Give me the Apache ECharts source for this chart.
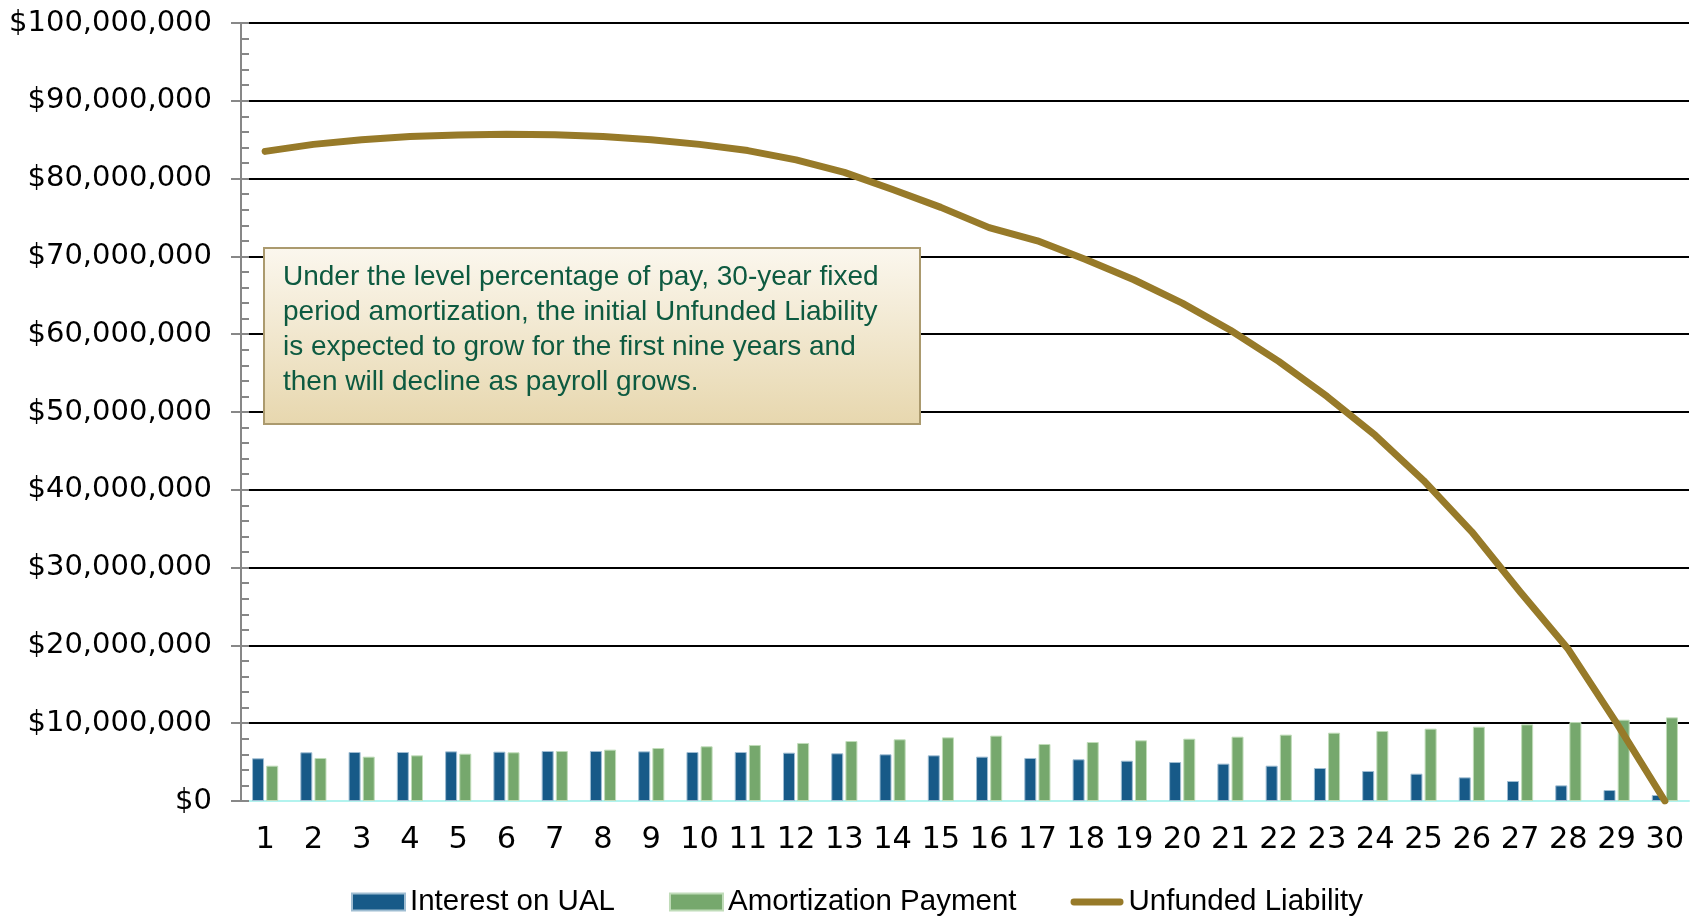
<!DOCTYPE html>
<html>
<head>
<meta charset="utf-8">
<title>Unfunded Liability – 30-Year Fixed Period Amortization</title>
<script src="https://cdn.jsdelivr.net/npm/echarts@6/dist/echarts.min.js"></script>
<style>
  html, body { margin: 0; padding: 0; background: #ffffff; }
  #chart { width: 1690px; height: 916px; }
</style>
</head>
<body>
<div id="chart"></div>
<script>
// Plan years
const years = ['1','2','3','4','5','6','7','8','9','10','11','12','13','14','15',
               '16','17','18','19','20','21','22','23','24','25','26','27','28','29','30'];

// Interest on the unfunded actuarial liability, $ millions
const interestOnUAL = [5.49, 6.26, 6.30, 6.30, 6.38, 6.34, 6.43, 6.43, 6.38, 6.30,
                       6.30, 6.21, 6.13, 6.00, 5.87, 5.70, 5.53, 5.36, 5.18, 5.01,
                       4.80, 4.54, 4.24, 3.86, 3.51, 3.04, 2.57, 2.01, 1.41, 0.77];

// Amortization payment (level percentage of pay), $ millions
const amortizationPayment = [4.54, 5.53, 5.70, 5.87, 6.08, 6.26, 6.43, 6.60, 6.81, 7.03,
                             7.20, 7.46, 7.71, 7.93, 8.18, 8.40, 7.33, 7.58, 7.80, 8.01,
                             8.27, 8.53, 8.78, 9.00, 9.30, 9.55, 9.85, 10.15, 10.45, 10.75];

// Unfunded liability balance, $ millions
const unfundedLiability = [83.5, 84.4, 85.0, 85.4, 85.6, 85.7, 85.65, 85.4, 85.0, 84.4,
                           83.6, 82.4, 80.8, 78.6, 76.3, 73.7, 72.0, 69.6, 67.0, 64.0,
                           60.5, 56.5, 52.0, 47.0, 41.2, 34.6, 26.9, 19.5, 10.0, 0.0];

// Value axis ticks, dollars
const yTicks = { min: 0, max: 100000000, major: 10000000, minor: 2000000 };

const seriesNames = ['Interest on UAL', 'Amortization Payment', 'Unfunded Liability'];

const noteText = [
  'Under the level percentage of pay, 30-year fixed',
  'period amortization, the initial Unfunded Liability',
  'is expected to grow for the first nine years and',
  'then will decline as payroll grows.'
].join('\n');

const M = 1000000;
const toDollars = arr => arr.map(v => Math.round(v * M));

const colors = { interest: '#175a88', amort: '#76a86d', liability: '#977a29' };

// Thick round-capped stroke for the line legend key; the two zero-area
// sub-paths pin the icon box to the full 53x17 legend cell.
const lineKeyIcon = 'path://M0,0 L0.01,0 M0,17 L0.01,17 ' +
  'M3.4,5.1 L49.6,5.1 A3.4,3.4 0 0 1 49.6,11.9 L3.4,11.9 A3.4,3.4 0 0 1 3.4,5.1 Z';

const chart = echarts.init(document.getElementById('chart'), null, { renderer: 'canvas' });

const numFont = 'DejaVu Sans';
const textFont = 'Liberation Sans';

chart.setOption({
  animation: false,
  backgroundColor: '#ffffff',
  grid: { left: 241, right: 1, top: 23, bottom: 115, containLabel: false },
  legend: {
    data: [
      { name: seriesNames[0], icon: 'rect' },
      { name: seriesNames[1], icon: 'rect' },
      { name: seriesNames[2], icon: lineKeyIcon, itemStyle: { color: colors.liability, borderWidth: 0 } }
    ],
    left: 346,
    top: 882,
    itemWidth: 53,
    itemHeight: 17,
    itemGap: 54,
    textStyle: { fontFamily: textFont, fontSize: 29.5, color: '#000000' }
  },
  xAxis: {
    type: 'category',
    data: years,
    boundaryGap: true,
    axisLine: { show: true, lineStyle: { color: '#b2f3ee', width: 2 } },
    axisTick: { show: false },
    axisLabel: { fontFamily: numFont, fontSize: 30.5, color: '#000000', margin: 24, interval: 0 },
    splitLine: { show: false }
  },
  yAxis: [
    {
      type: 'value',
      min: yTicks.min,
      max: yTicks.max,
      interval: yTicks.major,
      axisLine: { show: true, lineStyle: { color: '#878787', width: 2 } },
      axisTick: { show: true, inside: false, length: 10, lineStyle: { color: '#878787', width: 2 } },
      axisLabel: {
        fontFamily: numFont, fontSize: 29, color: '#000000', margin: 29,
        formatter: v => '$' + v.toLocaleString('en-US')
      },
      splitLine: { show: true, lineStyle: { color: '#000000', width: 2 } }
    },
    {
      type: 'value',
      position: 'left',
      min: yTicks.min,
      max: yTicks.max,
      interval: yTicks.minor,
      axisLine: { show: false },
      axisTick: { show: true, inside: true, length: 8, lineStyle: { color: '#878787', width: 2 } },
      axisLabel: { show: false },
      splitLine: { show: false }
    }
  ],
  series: [
    {
      name: seriesNames[0],
      type: 'bar',
      data: toDollars(interestOnUAL),
      barWidth: 12,
      barGap: '18%',
      itemStyle: { color: colors.interest, borderColor: '#9fbdd2', borderWidth: 1 }
    },
    {
      name: seriesNames[1],
      type: 'bar',
      data: toDollars(amortizationPayment),
      barWidth: 12,
      barGap: '18%',
      itemStyle: { color: colors.amort, borderColor: '#c0dcb9', borderWidth: 1 }
    },
    {
      name: seriesNames[2],
      type: 'line',
      data: toDollars(unfundedLiability),
      symbol: 'none',
      smooth: false,
      lineStyle: { color: colors.liability, width: 7, cap: 'round', join: 'round' },
      itemStyle: { color: colors.liability },
      z: 5
    }
  ],
  graphic: [
    {
      type: 'rect',
      z: 100,
      shape: { x: 264, y: 248, width: 656, height: 176 },
      style: {
        fill: new echarts.graphic.LinearGradient(0, 0, 0, 1, [
          { offset: 0, color: '#fbf7ee' },
          { offset: 1, color: '#e7d7ae' }
        ]),
        stroke: '#ab9a6e',
        lineWidth: 2
      }
    },
    {
      type: 'text',
      z: 101,
      style: {
        x: 283,
        y: 259.5,
        text: noteText,
        fontFamily: textFont,
        fontSize: 28,
        lineHeight: 35.2,
        fill: '#0d5a40',
        textVerticalAlign: 'top'
      }
    }
  ]
});
</script>
</body>
</html>
